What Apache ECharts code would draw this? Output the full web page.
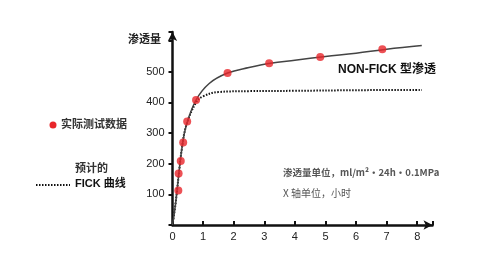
<!DOCTYPE html>
<html><head><meta charset="utf-8">
<script src="https://cdn.jsdelivr.net/npm/echarts@6/dist/echarts.min.js"></script>
<style>html,body{margin:0;padding:0;background:#fff}#c{width:490px;height:265px}</style>
</head><body><div id="c"></div>
<script>
// measured test points (hours, permeation)
const testX = [0.19, 0.2, 0.27, 0.35, 0.48, 0.77, 1.8, 3.16, 4.83, 6.86];
const testY = [113, 168, 209, 269, 338, 408, 496, 528, 548, 574];
// NON-FICK curve (solid)
const nonFickX = [0, 0.1, 0.2, 0.3, 0.45, 0.77, 1.2, 1.8, 2.5, 3.2, 4, 5, 6, 7, 8.15];
const nonFickY = [0, 70, 160, 245, 325, 408, 462, 496, 514, 528, 538, 550, 561, 574, 586];
// predicted FICK curve (dotted)
const fickX = [0, 0.1, 0.2, 0.3, 0.45, 0.77, 1.0, 1.5, 2.5, 4, 6, 8.15];
const fickY = [0, 70, 160, 245, 325, 400, 420, 434, 437, 438, 440, 441];
const yTicks = [100, 200, 300, 400, 500];
const xTicks = [0, 1, 2, 3, 4, 5, 6, 7, 8];

const zip = (a, b) => a.map((v, i) => [v, b[i]]);
const font = '"Liberation Sans", Arial, "Noto Sans CJK SC", sans-serif';
const cjk = '"Noto Sans CJK SC", "Liberation Sans", sans-serif';

const chart = echarts.init(document.getElementById('c'));
chart.setOption({
  animation: false,
  backgroundColor: '#fff',
  grid: {left: 172.5, top: 32, width: 260, height: 193},
  xAxis: {
    type: 'value', min: 0, max: 8.5, interval: 1,
    axisLine: {lineStyle: {color: '#111', width: 2.5}, symbol: ['none', 'arrow'], symbolSize: [7, 9]},
    axisTick: {inside: true, length: 4, lineStyle: {color: '#111', width: 2}},
    splitLine: {show: false},
    axisLabel: {
      fontFamily: font, fontSize: 11, color: '#222', margin: 6,
      formatter: v => xTicks.includes(v) ? String(v) : ''
    }
  },
  yAxis: {
    type: 'value', min: 0, max: 630, interval: 100,
    axisLine: {lineStyle: {color: '#111', width: 2.5}, symbol: ['none', 'arrow'], symbolSize: [7, 9]},
    axisTick: {inside: false, length: 4, lineStyle: {color: '#111', width: 2}},
    splitLine: {show: false},
    axisLabel: {
      fontFamily: font, fontSize: 11, color: '#222', margin: 8,
      formatter: v => yTicks.includes(v) ? String(v) : ''
    }
  },
  series: [
    {type: 'line', data: zip(fickX, fickY), smooth: 0.4, symbol: 'none',
     lineStyle: {color: '#111', width: 2, type: [1.5, 1.5]}, z: 2},
    {type: 'line', data: zip(nonFickX, nonFickY), smooth: 0.4, symbol: 'none',
     lineStyle: {color: '#444', width: 1.5}, z: 3},
    {type: 'scatter', data: zip(testX, testY), symbolSize: 8,
     itemStyle: {color: '#e8262b'}, z: 4}
  ],
  graphic: [
    {type: 'text', left: 128, top: 33, style: {text: '渗透量', font: 'bold 11px ' + cjk, fill: '#222'}},
    {type: 'text', left: 338, top: 64, style: {text: 'NON-FICK 型渗透', font: 'bold 12px ' + font, fill: '#111'}},
    {type: 'circle', shape: {cx: 53, cy: 125, r: 3.5}, style: {fill: '#e8262b'}},
    {type: 'text', left: 61, top: 118, style: {text: '实际测试数据', font: 'bold 11px ' + cjk, fill: '#333'}},
    {type: 'text', left: 75, top: 162, style: {text: '预计的', font: 'bold 11px ' + cjk, fill: '#333'}},
    {type: 'text', left: 75, top: 178, style: {text: 'FICK 曲线', font: 'bold 11px ' + font, fill: '#111'}},
    {type: 'line', shape: {x1: 36, y1: 185, x2: 70, y2: 185}, style: {stroke: '#111', lineWidth: 2, lineDash: [1.5, 1.5]}},
    {type: 'text', left: 283, top: 168, style: {text: '渗透量单位，ml/m²·24h·0.1MPa', font: 'bold 9.5px ' + cjk, fill: '#555'}},
    {type: 'text', left: 283, top: 188, style: {text: 'X 轴单位，小时', font: '10px ' + cjk, fill: '#555'}}
  ]
});
</script></body></html>
